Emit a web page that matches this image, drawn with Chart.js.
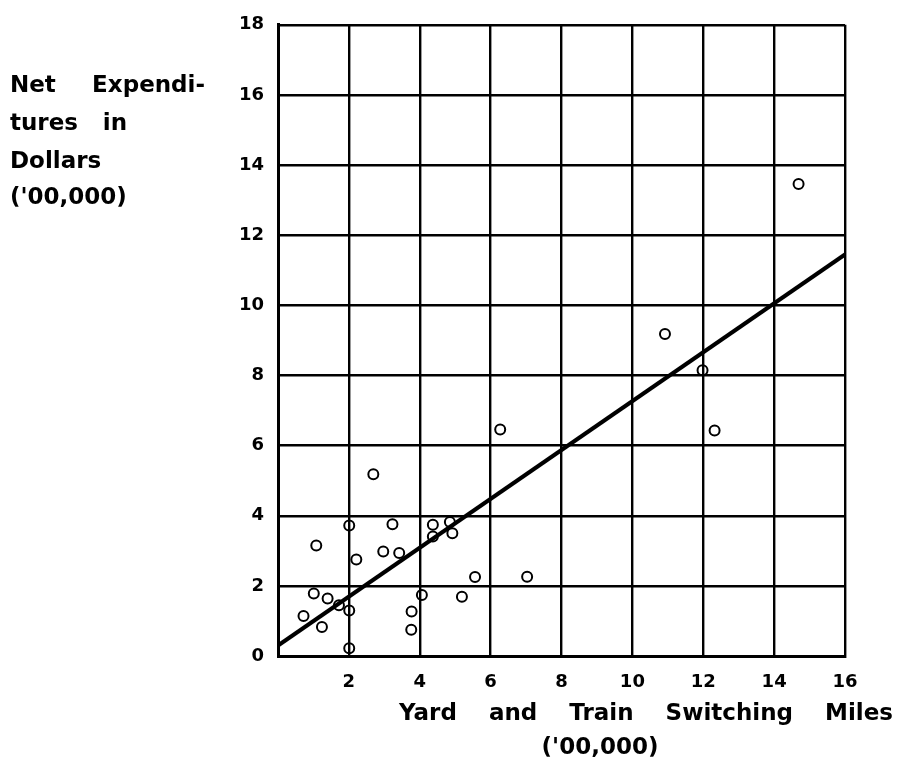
<!DOCTYPE html>
<html lang="en">

<head>
    <meta charset="UTF-8">
    <title>Switching miles vs expenditures</title>
    <style>
        body { margin: 0; background: #fff; }
    </style>
</head>

<body>
    <canvas id="myChart" width="898" height="764"></canvas>

    <script src="https://cdn.jsdelivr.net/npm/chart.js"></script>

    <script>
        // yard and train switching miles ('00,000)
        const milesX = [6.27, 2.69, 2.01, 3.23, 4.37, 4.85, 4.37, 4.92, 1.08, 2.97, 3.42, 2.21, 5.56, 7.03, 1.01,
            1.40, 4.06, 5.19, 1.72, 2.01, 0.72, 3.77, 1.24, 3.76, 2.01, 14.69, 10.92, 11.98, 12.32];
        // net expenditures ('00,000 dollars)
        const expendY = [6.46, 5.18, 3.72, 3.76, 3.74, 3.82, 3.41, 3.50, 3.15, 2.98, 2.94, 2.75, 2.25, 2.26, 1.78,
            1.64, 1.74, 1.69, 1.45, 1.30, 1.14, 1.27, 0.83, 0.75, 0.22, 13.46, 9.18, 8.15, 6.43];
        // fitted line end points
        const fitX = [0, 16];
        const fitY = [0.30, 11.45];

        const xTicks = [0, 2, 4, 6, 8, 10, 12, 14, 16];
        const yTicks = [0, 2, 4, 6, 8, 10, 12, 14, 16, 18];

        const yTitle = [['Net', 'Expendi-'], ['tures', 'in'], ['Dollars'], ["('00,000)"]];
        const xTitle = ['Yard', 'and', 'Train', 'Switching', 'Miles'];
        const xTitle2 = "('00,000)";

        const titleFont = 'bold 23px "DejaVu Sans"';
        const tickFont = { family: 'DejaVu Sans', size: 18, weight: 'bold' };

        // spread words between left and right (justified line)
        function f_justify(c, words, left, right, y) {
            if (words.length == 1) {
                c.fillText(words[0], left, y);
                return;
            }
            let total = 0;
            words.forEach(w => total += c.measureText(w).width);
            let gap = (right - left - total) / (words.length - 1);
            let x = left;
            words.forEach(w => {
                c.fillText(w, x, y);
                x += c.measureText(w).width + gap;
            });
        }

        const titlesPlugin = {
            id: 'titles',
            afterDraw(chart) {
                const c = chart.ctx;
                c.save();
                c.fillStyle = '#000';
                c.font = titleFont;
                c.textBaseline = 'middle';
                c.textAlign = 'left';
                f_justify(c, yTitle[0], 10, 205, 86);
                f_justify(c, yTitle[1], 10, 127, 124);
                f_justify(c, yTitle[2], 10, 0, 162);
                f_justify(c, yTitle[3], 10, 0, 198);

                f_justify(c, xTitle, 399, 893, 714);
                c.textAlign = 'center';
                c.fillText(xTitle2, 600, 748);
                c.restore();
            }
        };

        const ctx = document.getElementById('myChart');

        let chart = new Chart(ctx, {
            type: 'scatter',
            data: {
                datasets: [{
                    type: 'line',
                    label: 'fit',
                    data: fitX.map((x, i) => ({ x: x, y: fitY[i] })),
                    borderColor: '#000',
                    borderWidth: 4,
                    pointRadius: 0,
                    order: 0
                },
                {
                    label: 'railroads',
                    data: milesX.map((x, i) => ({ x: x, y: expendY[i] })),
                    pointRadius: 5,
                    pointBorderWidth: 2,
                    borderColor: '#000',
                    backgroundColor: 'rgba(0,0,0,0)',
                    order: 1
                }]
            },
            options: {
                responsive: false,
                devicePixelRatio: 1,
                animation: false,
                layout: {
                    padding: { top: 22, right: 53, left: 0, bottom: 0 }
                },
                plugins: {
                    legend: { display: false },
                    tooltip: { enabled: false }
                },
                scales: {
                    x: {
                        type: 'linear',
                        min: 0,
                        max: 16,
                        afterBuildTicks: s => { s.ticks = xTicks.map(v => ({ value: v })); },
                        afterFit: s => { s.height = 108; },
                        ticks: {
                            color: '#000',
                            font: tickFont,
                            padding: 16,
                            maxRotation: 0,
                            callback: v => v == 0 ? '' : v
                        },
                        grid: { color: '#000', lineWidth: 2.4, drawTicks: false },
                        border: { color: '#000', width: 3 }
                    },
                    y: {
                        type: 'linear',
                        min: 0,
                        max: 18,
                        afterBuildTicks: s => { s.ticks = yTicks.map(v => ({ value: v })); },
                        afterFit: s => { s.width = 278; },
                        ticks: {
                            color: '#000',
                            font: tickFont,
                            padding: 14
                        },
                        grid: { color: '#000', lineWidth: 2.4, drawTicks: false },
                        border: { color: '#000', width: 3 }
                    }
                }
            },
            plugins: [titlesPlugin]
        });
    </script>
</body>

</html>
